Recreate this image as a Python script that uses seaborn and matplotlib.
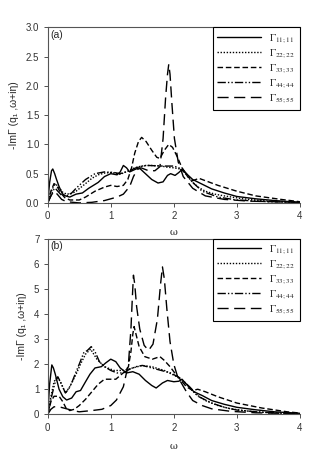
import numpy as np
import pandas as pd
import matplotlib
matplotlib.use("Agg")
import matplotlib.pyplot as plt
import seaborn as sns

# ---------------- data: panel (a) ----------------
a11_w = [0, 0.03, 0.06, 0.08, 0.11, 0.14, 0.18, 0.23, 0.28, 0.35, 0.45, 0.55, 0.65, 0.8, 0.9, 1.0, 1.1, 1.15, 1.2, 1.25, 1.3, 1.38, 1.45, 1.55, 1.65, 1.75, 1.83, 1.9, 1.95, 2.02, 2.08, 2.14, 2.2, 2.3, 2.45, 2.6, 2.8, 3.0, 3.3, 3.6, 4.0]
a11_v = [0, 0.35, 0.55, 0.58, 0.5, 0.4, 0.28, 0.16, 0.12, 0.1, 0.15, 0.17, 0.25, 0.35, 0.45, 0.5, 0.48, 0.53, 0.64, 0.6, 0.53, 0.57, 0.6, 0.5, 0.4, 0.34, 0.36, 0.47, 0.5, 0.47, 0.52, 0.58, 0.5, 0.4, 0.32, 0.24, 0.17, 0.11, 0.07, 0.04, 0.01]

a22_w = [0, 0.05, 0.1, 0.13, 0.18, 0.24, 0.3, 0.38, 0.45, 0.6, 0.7, 0.8, 0.9, 1.0, 1.1, 1.15, 1.22, 1.3, 1.38, 1.45, 1.55, 1.65, 1.8, 1.9, 2.0, 2.1, 2.15, 2.22, 2.3, 2.4, 2.5, 2.65, 2.8, 3.1, 3.5, 4.0]
a22_v = [0, 0.18, 0.3, 0.32, 0.26, 0.18, 0.15, 0.16, 0.2, 0.33, 0.42, 0.48, 0.51, 0.52, 0.5, 0.49, 0.52, 0.56, 0.6, 0.62, 0.64, 0.64, 0.63, 0.61, 0.6, 0.58, 0.55, 0.45, 0.35, 0.26, 0.2, 0.15, 0.12, 0.07, 0.03, 0.01]

a33_w = [0, 0.05, 0.1, 0.14, 0.2, 0.27, 0.35, 0.5, 0.6, 0.75, 0.9, 1.0, 1.1, 1.2, 1.27, 1.33, 1.38, 1.44, 1.49, 1.56, 1.65, 1.73, 1.78, 1.85, 1.92, 1.98, 2.05, 2.13, 2.22, 2.3, 2.4, 2.5, 2.7, 3.0, 3.3, 3.7, 4.0]
a33_v = [0, 0.2, 0.33, 0.3, 0.18, 0.09, 0.05, 0.05, 0.1, 0.2, 0.27, 0.3, 0.28, 0.3, 0.4, 0.6, 0.85, 1.05, 1.12, 1.05, 0.9, 0.78, 0.76, 0.9, 1.0, 0.95, 0.8, 0.6, 0.45, 0.38, 0.42, 0.38, 0.3, 0.2, 0.12, 0.06, 0.02]

a44_w = [0, 0.05, 0.09, 0.12, 0.16, 0.22, 0.3, 0.38, 0.45, 0.6, 0.75, 0.9, 1.05, 1.15, 1.3, 1.4, 1.5, 1.6, 1.8, 2.0, 2.08, 2.2, 2.3, 2.45, 2.7, 3.0, 3.5, 4.0]
a44_v = [0, 0.12, 0.22, 0.25, 0.2, 0.13, 0.12, 0.17, 0.25, 0.4, 0.5, 0.53, 0.52, 0.5, 0.55, 0.6, 0.63, 0.64, 0.63, 0.63, 0.6, 0.5, 0.35, 0.2, 0.1, 0.05, 0.02, 0.01]

a55_w = [0, 0.05, 0.1, 0.15, 0.22, 0.3, 0.5, 0.7, 0.9, 1.1, 1.2, 1.3, 1.36, 1.42, 1.48, 1.6, 1.7, 1.78, 1.83, 1.87, 1.9, 1.92, 1.94, 1.97, 2.01, 2.07, 2.15, 2.3, 2.5, 2.8, 3.2, 4.0]
a55_v = [0, 0.12, 0.2, 0.15, 0.06, 0.02, 0.0, 0.01, 0.04, 0.1, 0.15, 0.28, 0.45, 0.57, 0.6, 0.55, 0.55, 0.62, 1.1, 1.8, 2.2, 2.37, 2.2, 1.7, 1.1, 0.7, 0.45, 0.25, 0.12, 0.06, 0.03, 0.01]

# ---------------- data: panel (b) ----------------
b11_w = [0, 0.03, 0.065, 0.09, 0.12, 0.18, 0.24, 0.3, 0.38, 0.45, 0.52, 0.6, 0.67, 0.75, 0.85, 0.92, 1.0, 1.08, 1.15, 1.25, 1.35, 1.45, 1.55, 1.65, 1.72, 1.82, 1.9, 2.0, 2.08, 2.13, 2.22, 2.32, 2.45, 2.6, 2.8, 3.0, 3.3, 3.6, 4.0]
b11_v = [0, 1.2, 1.97, 1.85, 1.6, 1.0, 0.7, 0.57, 0.65, 0.9, 0.95, 1.3, 1.6, 1.85, 1.9, 2.05, 2.2, 2.1, 1.85, 1.65, 1.7, 1.6, 1.35, 1.15, 1.05, 1.25, 1.35, 1.3, 1.32, 1.4, 1.15, 0.9, 0.75, 0.55, 0.4, 0.28, 0.18, 0.1, 0.04]

b22_w = [0, 0.05, 0.1, 0.15, 0.2, 0.28, 0.35, 0.45, 0.52, 0.6, 0.68, 0.78, 0.9, 1.05, 1.2, 1.35, 1.5, 1.65, 1.85, 2.05, 2.2, 2.35, 2.5, 2.7, 2.9, 3.2, 3.6, 4.0]
b22_v = [0, 0.7, 1.3, 1.5, 1.3, 0.85, 1.1, 1.6, 2.0, 2.4, 2.6, 2.2, 1.9, 1.75, 1.75, 1.85, 1.95, 1.9, 1.75, 1.5, 1.2, 0.8, 0.55, 0.35, 0.22, 0.12, 0.05, 0.02]

b33_w = [0, 0.05, 0.1, 0.18, 0.24, 0.3, 0.35, 0.42, 0.5, 0.6, 0.7, 0.8, 0.9, 1.0, 1.08, 1.15, 1.22, 1.28, 1.32, 1.35, 1.37, 1.4, 1.45, 1.54, 1.6, 1.66, 1.72, 1.78, 1.85, 1.94, 2.03, 2.1, 2.2, 2.3, 2.38, 2.5, 2.7, 3.0, 3.4, 3.8, 4.0]
b33_v = [0, 0.5, 0.72, 0.72, 0.5, 0.2, 0.15, 0.2, 0.35, 0.6, 0.9, 1.2, 1.4, 1.4, 1.4, 1.55, 1.7, 1.9, 2.5, 3.2, 3.5, 3.2, 2.7, 2.3, 2.25, 2.2, 2.25, 2.3, 2.15, 1.9, 1.6, 1.4, 1.1, 0.95, 1.0, 0.9, 0.7, 0.45, 0.25, 0.1, 0.05]

b44_w = [0, 0.07, 0.12, 0.16, 0.22, 0.28, 0.33, 0.38, 0.45, 0.5, 0.57, 0.63, 0.69, 0.75, 0.82, 0.9, 1.0, 1.1, 1.2, 1.3, 1.4, 1.5, 1.65, 1.8, 1.95, 2.1, 2.25, 2.4, 2.6, 2.8, 3.0, 3.4, 4.0]
b44_v = [0, 0.8, 1.3, 1.5, 1.2, 0.85, 1.0, 1.25, 1.7, 2.0, 2.45, 2.55, 2.7, 2.5, 2.1, 1.9, 1.75, 1.65, 1.65, 1.8, 1.9, 1.95, 1.85, 1.75, 1.65, 1.45, 1.1, 0.7, 0.45, 0.28, 0.17, 0.08, 0.03]

b55_w = [0, 0.05, 0.1, 0.18, 0.27, 0.4, 0.5, 0.7, 0.86, 1.0, 1.09, 1.2, 1.28, 1.32, 1.345, 1.36, 1.38, 1.41, 1.46, 1.53, 1.6, 1.67, 1.74, 1.79, 1.82, 1.85, 1.89, 1.94, 2.0, 2.06, 2.12, 2.2, 2.3, 2.45, 2.6, 2.9, 3.3, 4.0]
b55_v = [0, 0.2, 0.3, 0.3, 0.24, 0.15, 0.1, 0.15, 0.2, 0.35, 0.57, 1.1, 2.0, 3.4, 4.8, 5.55, 5.2, 4.3, 3.4, 2.75, 2.55, 2.8, 3.8, 5.2, 5.88, 5.4, 4.2, 2.9, 2.0, 1.5, 1.25, 0.9, 0.55, 0.35, 0.22, 0.12, 0.06, 0.03]

labels = [r"$\Gamma_{11;11}$", r"$\Gamma_{22;22}$", r"$\Gamma_{33;33}$", r"$\Gamma_{44;44}$", r"$\Gamma_{55;55}$"]
styles = ["-", (0, (1, 1.2)), (0, (4, 2)), (0, (6, 1.5, 1, 1.5, 1, 1.5)), (0, (8, 4))]

panel_a = [(a11_w, a11_v), (a22_w, a22_v), (a33_w, a33_v), (a44_w, a44_v), (a55_w, a55_v)]
panel_b = [(b11_w, b11_v), (b22_w, b22_v), (b33_w, b33_v), (b44_w, b44_v), (b55_w, b55_v)]

sns.set_style("ticks")
plt.rcParams["font.family"] = ["Liberation Sans", "DejaVu Sans"]
plt.rcParams["mathtext.fontset"] = "stix"

fig = plt.figure(figsize=(3.14, 4.57), dpi=100)
ax1 = fig.add_axes([0.152, 0.556, 0.803, 0.384])
ax2 = fig.add_axes([0.152, 0.0934, 0.803, 0.384])

def draw(ax, series, ymax, yticks, yticklabels, tag, xlabelpad):
    for (w, v), lab, ls in zip(series, labels, styles):
        df = pd.DataFrame({"w": w, "v": v})
        sns.lineplot(data=df, x="w", y="v", ax=ax, color="black", lw=1.0,
                     linestyle=ls, label=lab, estimator=None, sort=False)
    ax.set_xlim(0, 4)
    ax.set_ylim(0, ymax)
    ax.set_xticks([0, 1, 2, 3, 4])
    ax.set_xticklabels(["0", "1", "2", "3", "4"])
    ax.set_yticks(yticks)
    ax.set_yticklabels(yticklabels)
    ax.tick_params(axis="both", labelsize=7, length=3, width=0.6, pad=3, colors="#333333")
    for s in ["left", "bottom", "top"]:
        ax.spines[s].set_color("#555555")
        ax.spines[s].set_linewidth(0.8)
    ax.spines["right"].set_visible(False)
    ax.set_xlabel("ω", fontsize=7, family=["DejaVu Serif"], labelpad=xlabelpad)
    ax.set_ylabel("-ImΓ (q₁ ,ω+iη)", fontsize=7.5, labelpad=5)
    ax.text(0.01, 0.985, tag, transform=ax.transAxes, fontsize=7.5, va="top", ha="left")
    leg = ax.legend(loc="upper right", borderaxespad=0, fontsize=7.5, handlelength=4.2,
                    frameon=True, fancybox=False, edgecolor="black", framealpha=1,
                    labelspacing=0.2, handletextpad=0.8, borderpad=0.45)
    leg.get_frame().set_linewidth(0.8)

draw(ax1, panel_a, 3.0, [0, 0.5, 1.0, 1.5, 2.0, 2.5, 3.0],
     ["0.0", "0.5", "1.0", "1.5", "2.0", "2.5", "3.0"], "(a)", 5)
draw(ax2, panel_b, 7, [0, 1, 2, 3, 4, 5, 6, 7],
     ["0", "1", "2", "3", "4", "5", "6", "7"], "(b)", 7)

fig.savefig("out.png", dpi=100, facecolor="white")
